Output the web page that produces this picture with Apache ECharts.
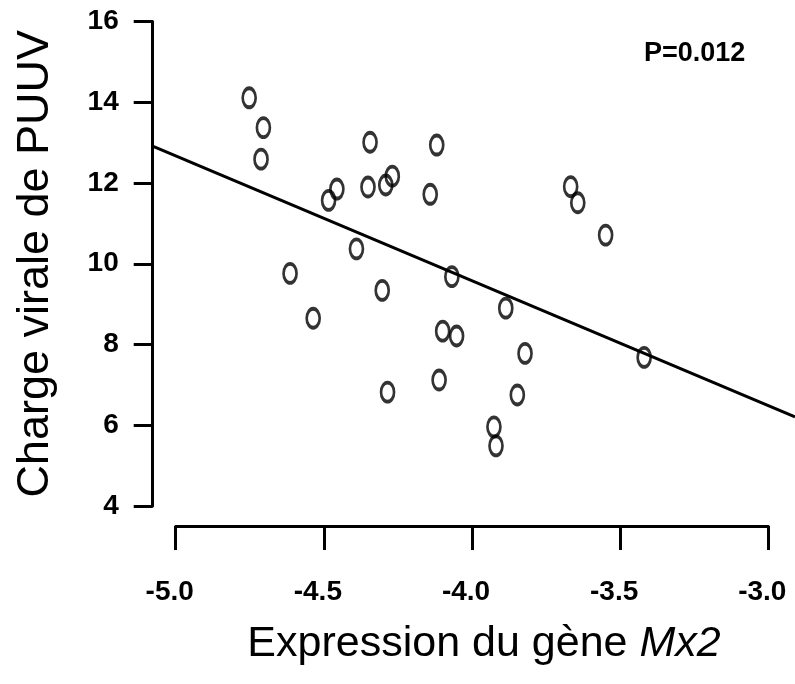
<!DOCTYPE html>
<html>
<head>
<meta charset="utf-8">
<script src="https://cdn.jsdelivr.net/npm/echarts@6/dist/echarts.min.js"></script>
<style>
  html, body { margin: 0; padding: 0; background: #fff; }
  #chart { width: 795px; height: 684px; }
</style>
</head>
<body>
<div id="chart"></div>
<script>
// Mx2 expression (x) vs PUUV viral load (y)
var mx2Expr = [-4.752, -4.704, -4.712, -4.344, -4.119, -4.484, -4.456, -4.351, -4.291, -4.269,
               -4.141, -3.667, -3.643, -3.549, -4.390, -4.614, -4.068, -4.303, -4.536, -3.886,
               -4.099, -4.052, -3.821, -3.419, -4.111, -4.285, -3.847, -3.926, -3.919];
var puuvLoad = [14.11, 13.37, 12.59, 13.01, 12.94, 11.57, 11.85, 11.90, 11.95, 12.17,
                11.72, 11.91, 11.51, 10.71, 10.37, 9.76, 9.68, 9.34, 8.65, 8.90,
                8.33, 8.21, 7.78, 7.68, 7.12, 6.82, 6.75, 5.96, 5.49];
var xTicks = [-5.0, -4.5, -4.0, -3.5, -3.0];
var yTicks = [4, 6, 8, 10, 12, 14, 16];

// fitted regression line y = a + b*x, drawn across the whole plot region
var fitA = -2.792;
var fitB = -3.093;
var fitRange = [-5.078, -2.910];

var points = mx2Expr.map(function (x, i) { return [x, puuvLoad[i]]; });
var fitLine = fitRange.map(function (x) { return [x, fitA + fitB * x]; });

var tickFont = 'Liberation Sans, Arial, sans-serif';
var titleFont = 'Liberation Sans, Arial, sans-serif';

// px per x unit, used to place the wider (R-style) plot region grid
var pxPerX = (768.3 - 175.7) / (xTicks[xTicks.length - 1] - xTicks[0]);

var myChart = echarts.init(document.getElementById('chart'));
myChart.setOption({
    animation: false,
    backgroundColor: '#fff',
    title: {
        text: 'P=0.012',
        left: 639,
        top: 35,
        textStyle: { fontFamily: tickFont, fontWeight: 'bold', fontSize: 27, color: '#000' }
    },
    grid: [
        { left: 175.7, right: 26.7, top: 21.5, bottom: 178, containLabel: false, outerBoundsMode: 'none' },
        {
            left: 175.7 + (fitRange[0] - xTicks[0]) * pxPerX,
            right: 26.7 - (fitRange[1] - xTicks[xTicks.length - 1]) * pxPerX,
            top: 21.5, bottom: 178, containLabel: false, outerBoundsMode: 'none'
        }
    ],
    xAxis: [{
        type: 'value',
        gridIndex: 0,
        min: xTicks[0],
        max: xTicks[xTicks.length - 1],
        interval: 0.5,
        offset: 20,
        splitLine: { show: false },
        axisLine: { show: true, onZero: false, lineStyle: { color: '#000', width: 3 } },
        axisTick: { show: true, length: 24, lineStyle: { color: '#000', width: 3 } },
        axisLabel: {
            margin: 52,
            color: '#000',
            fontFamily: tickFont,
            fontWeight: 'bold',
            fontSize: 28,
            padding: [0, 12, 0, 0],
            formatter: function (v) { return v.toFixed(1); }
        },
        name: '{r|Expression du gène }{i|Mx2}',
        nameLocation: 'middle',
        nameGap: 97,
        nameTextStyle: {
            padding: [0, 0, 0, 24],
            rich: {
                r: { fontFamily: titleFont, fontSize: 43, color: '#000' },
                i: { fontFamily: titleFont, fontSize: 43, fontStyle: 'italic', color: '#000' }
            }
        }
    }, {
        type: 'value',
        gridIndex: 1,
        min: fitRange[0],
        max: fitRange[1],
        show: false
    }],
    yAxis: [{
        type: 'value',
        gridIndex: 0,
        min: yTicks[0],
        max: yTicks[yTicks.length - 1],
        interval: 2,
        offset: 23,
        splitLine: { show: false },
        axisLine: { show: true, onZero: false, lineStyle: { color: '#000', width: 3 } },
        axisTick: { show: true, length: 19, lineStyle: { color: '#000', width: 3 } },
        axisLabel: {
            margin: 34,
            color: '#000',
            fontFamily: tickFont,
            fontWeight: 'bold',
            fontSize: 28
        },
        name: 'Charge virale de PUUV',
        nameLocation: 'middle',
        nameGap: 95,
        nameTextStyle: { fontFamily: titleFont, fontSize: 45, color: '#000' }
    }, {
        type: 'value',
        gridIndex: 1,
        min: yTicks[0],
        max: yTicks[yTicks.length - 1],
        show: false
    }],
    series: [
        {
            type: 'line',
            xAxisIndex: 1,
            yAxisIndex: 1,
            data: fitLine,
            symbol: 'none',
            lineStyle: { color: '#000', width: 3 },
            silent: true
        },
        {
            type: 'scatter',
            xAxisIndex: 0,
            yAxisIndex: 0,
            data: points,
            symbol: 'circle',
            symbolSize: [13, 19],
            itemStyle: { color: 'rgba(255,255,255,0)', borderColor: '#000', borderWidth: 3.2 }
        }
    ]
});
</script>
</body>
</html>
